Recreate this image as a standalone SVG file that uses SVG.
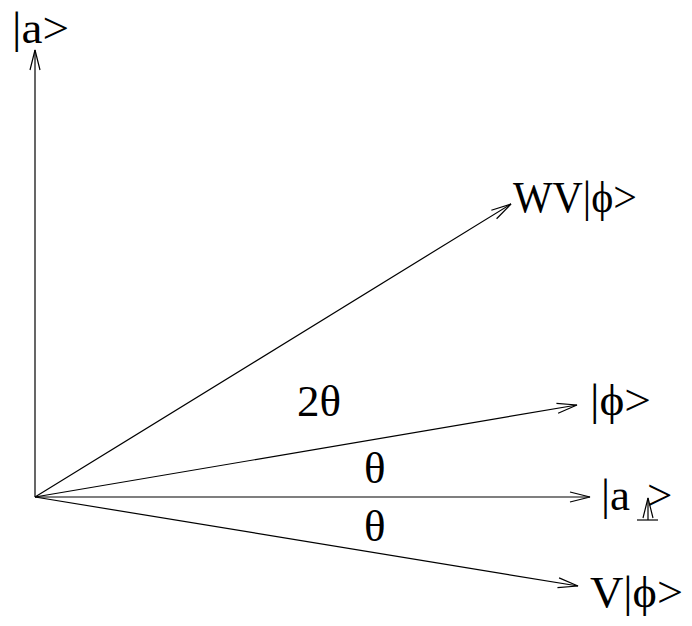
<svg xmlns="http://www.w3.org/2000/svg" width="692" height="626" viewBox="0 0 692 626">
<style>
.t{font-family:"Liberation Serif","Times New Roman",serif;font-size:45px;fill:#000}
.v{stroke:#000;stroke-width:1.2;fill:none}
</style>
<defs>
<marker id="ah" markerUnits="userSpaceOnUse" viewBox="-22 -7 24 14" markerWidth="24" markerHeight="14" refX="0" refY="0" orient="auto" overflow="visible">
<path d="M-20,-5 L0,0 L-20,5" fill="none" stroke="#000" stroke-width="1.2"/>
</marker>
</defs>
<rect width="692" height="626" fill="#fff"/>
<g id="connectors">
<line class="v" x1="35" y1="497" x2="35" y2="50" marker-end="url(#ah)"/>
<line class="v" x1="35" y1="497" x2="590" y2="497" marker-end="url(#ah)"/>
<line class="v" x1="35" y1="497" x2="577" y2="405" marker-end="url(#ah)"/>
<line class="v" x1="35" y1="497" x2="511" y2="204" marker-end="url(#ah)"/>
<line class="v" x1="35" y1="497" x2="578" y2="586" marker-end="url(#ah)"/>
</g>
<g id="label-a"><text class="t" x="12" y="43" textLength="57" lengthAdjust="spacingAndGlyphs">|a&gt;</text></g>
<g id="label-wv"><text class="t" x="513" y="212" textLength="124" lengthAdjust="spacingAndGlyphs">WV|ϕ&gt;</text></g>
<g id="label-2theta"><text class="t" x="297" y="416">2θ</text></g>
<g id="label-phi"><text class="t" x="590" y="415" textLength="61" lengthAdjust="spacingAndGlyphs">|ϕ&gt;</text></g>
<g id="label-theta1"><text class="t" x="364" y="483">θ</text></g>
<g id="label-aperp">
<text class="t" x="601" y="510">|a</text>
<text class="t" x="647" y="510">&gt;</text>
<line class="v" x1="648" y1="520" x2="648" y2="498" marker-end="url(#ah)"/>
<line class="v" x1="637" y1="520" x2="658" y2="520"/>
</g>
<g id="label-theta2"><text class="t" x="364" y="541">θ</text></g>
<g id="label-v"><text class="t" x="590" y="607" textLength="93" lengthAdjust="spacingAndGlyphs">V|ϕ&gt;</text></g>
</svg>
